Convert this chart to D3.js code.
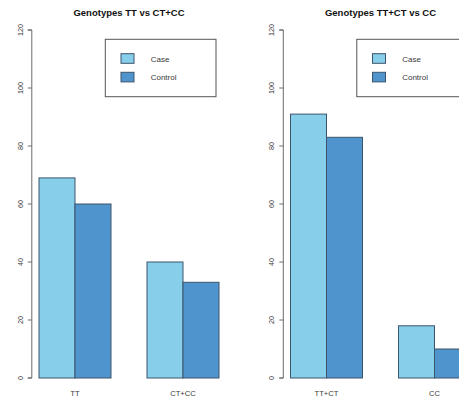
<!DOCTYPE html>
<html>
<head>
<meta charset="utf-8">
<script src="https://cdn.jsdelivr.net/npm/d3@7"></script>
<style>
  html, body { margin: 0; padding: 0; background: #fff; }
  svg { display: block; font-family: "Liberation Sans", Arial, sans-serif; }
</style>
</head>
<body>
<svg id="chart" width="459" height="403"></svg>
<script>
// Genotype counts, case vs control, two groupings
const titles = ["Genotypes TT vs CT+CC", "Genotypes TT+CT vs CC"];
const groupsLeft = ["TT", "CT+CC"];
const groupsRight = ["TT+CT", "CC"];
const caseLeft = [69, 40];
const controlLeft = [60, 33];
const caseRight = [91, 18];
const controlRight = [83, 10];
const seriesNames = ["Case", "Control"];
const yTicks = [0, 20, 40, 60, 80, 100, 120];

const colors = ["#87CEEB", "#4F94CD"];
const barStroke = "#3d556b";
const axisColor = "#6b6b6b";
const textColor = "#3a3a3a";

const svg = d3.select("#chart");

const panels = [
  { title: titles[0], groups: groupsLeft, values: [caseLeft, controlLeft], dx: 0 },
  { title: titles[1], groups: groupsRight, values: [caseRight, controlRight], dx: 251.5 }
];

panels.forEach(p => {
  const g = svg.append("g").attr("transform", `translate(${p.dx},0)`);

  // barplot(beside=TRUE) style positions: bar width 1, gap of 1 between groups
  const x = d3.scaleLinear().domain([0.8, 6.2]).range([31.8, 226.2]);
  const y = d3.scaleLinear().domain([0, 120]).range([378, 30]);

  const bars = [];
  p.groups.forEach((grp, gi) => {
    p.values.forEach((vals, si) => {
      const left = 1 + gi * 3 + si;
      bars.push({ left, value: vals[gi], si });
    });
  });

  g.selectAll("rect.bar").data(bars).join("rect")
    .attr("class", "bar")
    .attr("x", d => x(d.left))
    .attr("width", d => x(d.left + 1) - x(d.left))
    .attr("y", d => y(d.value))
    .attr("height", d => y(0) - y(d.value))
    .attr("fill", d => colors[d.si])
    .attr("stroke", barStroke)
    .attr("stroke-width", 1);

  // group labels
  g.selectAll("text.xlab").data(p.groups).join("text")
    .attr("class", "xlab")
    .attr("x", (d, i) => x(2 + i * 3))
    .attr("y", 395.5)
    .attr("text-anchor", "middle")
    .attr("font-size", 7.6)
    .attr("fill", textColor)
    .text(d => d);

  // y axis
  const yAxis = d3.axisLeft(y).tickValues(yTicks).tickSize(4).tickFormat(d3.format("d"));
  const ax = g.append("g").attr("transform", `translate(${x(0.8)},0)`).call(yAxis);
  ax.select(".domain").attr("stroke", axisColor).attr("d", `M-4,${y(0)}H0V${y(120)}H-4`);
  ax.selectAll(".tick line").attr("stroke", axisColor);
  ax.selectAll(".tick text")
    .attr("fill", textColor)
    .attr("font-size", 7.2)
    .attr("font-family", "Liberation Sans, Arial, sans-serif")
    .attr("text-anchor", "middle")
    .attr("dy", 0)
    .attr("x", 0)
    .attr("transform", d => `translate(${-9},${y(d)}) rotate(-90)`)
    .attr("y", 0);
  ax.selectAll(".tick").attr("transform", null);
  ax.selectAll(".tick line").attr("transform", d => `translate(0,${y(d)})`);

  // title
  g.append("text")
    .attr("x", (x(0.8) + x(6.2)) / 2)
    .attr("y", 15.5)
    .attr("text-anchor", "middle")
    .attr("font-size", 9.5)
    .attr("font-weight", "bold")
    .attr("fill", "#111")
    .text(p.title);

  // legend
  const lg = g.append("g");
  lg.append("rect")
    .attr("x", 105.3).attr("y", 39.3)
    .attr("width", 110.7).attr("height", 57.4)
    .attr("fill", "#fff").attr("stroke", "#555").attr("stroke-width", 1);
  seriesNames.forEach((name, i) => {
    lg.append("rect")
      .attr("x", 121).attr("y", 53.7 + i * 18.6)
      .attr("width", 13).attr("height", 9.6)
      .attr("fill", colors[i]).attr("stroke", barStroke).attr("stroke-width", 1);
    lg.append("text")
      .attr("x", 150.7).attr("y", 61.6 + i * 18.6)
      .attr("font-size", 8)
      .attr("fill", textColor)
      .text(name);
  });
});
</script>
</body>
</html>
